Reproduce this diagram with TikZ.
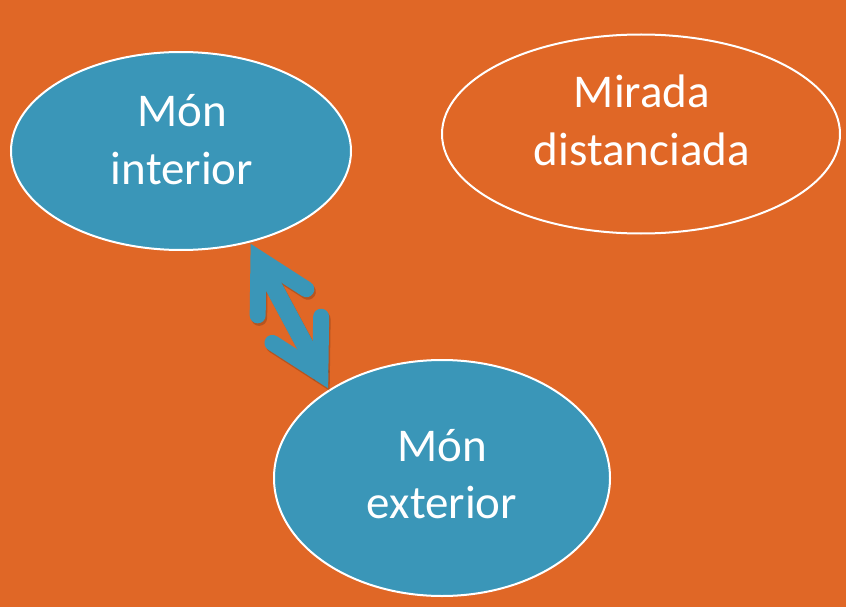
\documentclass[tikz,border=0pt]{standalone}
\usepackage{fontspec}
\setmainfont{Carlito}
\usetikzlibrary{shapes.geometric,calc}
\definecolor{bgorange}{RGB}{224,103,38}
\definecolor{teal}{RGB}{58,150,184}
\tikzset{
  blob/.style={ellipse, draw=white, line width=2pt, inner sep=0pt},
  label text/.style={text=white, anchor=base, inner sep=0pt, font=\fontsize{47}{57}\selectfont},
  arrowline/.style={draw=teal, line width=16pt, line cap=round, line join=miter},
  arrowshadow/.style={draw=black, opacity=0.18, line width=16pt, line cap=round, line join=miter}
}
\begin{document}
\begin{tikzpicture}[x=1pt,y=-1pt]
\fill[bgorange] (0,0) rectangle (846,607);
\useasboundingbox (0,0) rectangle (846,607);
\node[blob, fill=teal, minimum width=340pt, minimum height=198pt] (mi) at (181,151) {};
\node[blob, minimum width=398pt, minimum height=199pt] (md) at (641,134) {};
\node[blob, fill=teal, minimum width=336pt, minimum height=236pt] (me) at (442,478) {};
\node[label text] (mi1) at (182,127) {Món};
\node[label text] (mi2) at (182,184) {interior};
\node[label text] (md1) at (642,108) {Mirada};
\node[label text] (md2) at (642,165.5) {distanciada};
\node[label text] (me1) at (442,461.5) {Món};
\node[label text] (me2) at (442,518) {exterior};
\coordinate (a) at (mi.-53.5);
\coordinate (b) at (me.142.2);
\coordinate (ja) at ($(a)!18pt!(b)$);
\coordinate (jb) at ($(b)!18pt!(a)$);
\begin{scope}[transform canvas={shift={(1.5pt,-2.5pt)}}]
\draw[arrowshadow, line width=17.5pt, line cap=butt] (ja) -- (jb);
\draw[arrowshadow] ($(ja)!57pt!29:(jb)$) -- (ja) -- ($(ja)!57pt!-29:(jb)$);
\draw[arrowshadow] ($(jb)!57pt!29:(ja)$) -- (jb) -- ($(jb)!57pt!-29:(ja)$);
\end{scope}
\draw[arrowline, line width=17.5pt, line cap=butt] (ja) -- (jb);
\draw[arrowline] ($(ja)!57pt!29:(jb)$) -- (ja) -- ($(ja)!57pt!-29:(jb)$);
\draw[arrowline] ($(jb)!57pt!29:(ja)$) -- (jb) -- ($(jb)!57pt!-29:(ja)$);
\end{tikzpicture}
\end{document}
